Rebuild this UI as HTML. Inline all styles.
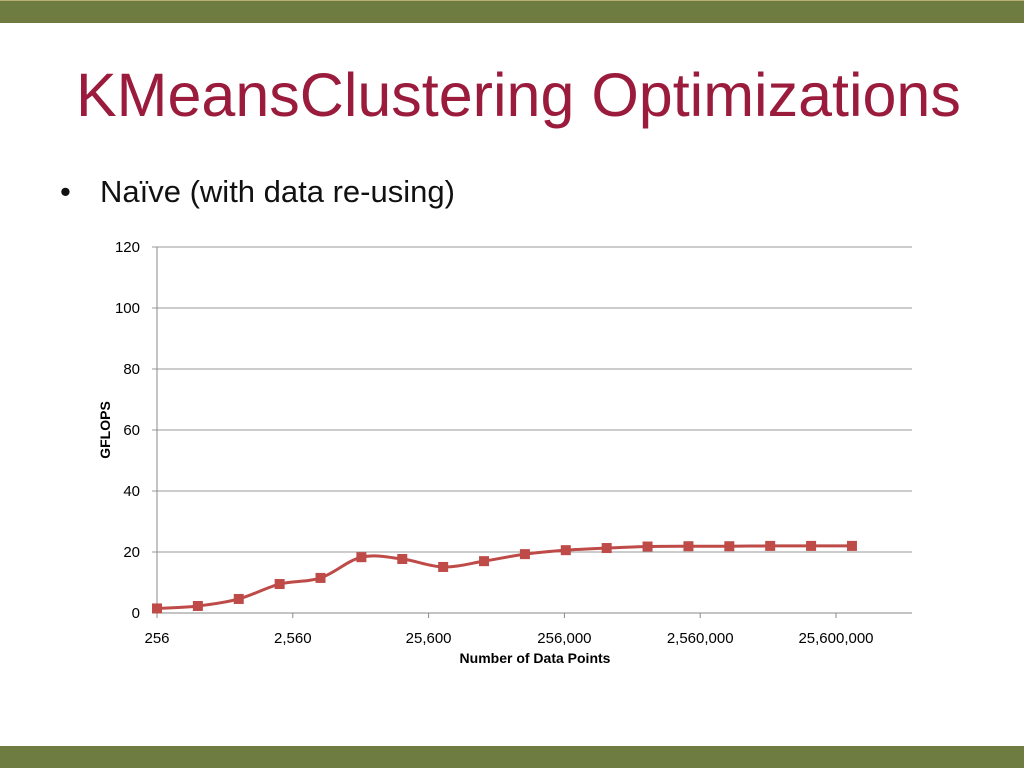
<!DOCTYPE html>
<html><head><meta charset="utf-8"><style>
body{margin:0;width:1024px;height:768px;background:#fff;overflow:hidden;position:relative;font-family:"Liberation Sans",sans-serif}
#top{position:absolute;left:0;top:0;width:1024px;height:22px;background:#6e7b41;border-top:1px solid #b8b070}
#bot{position:absolute;left:0;top:746px;width:1024px;height:22px;background:#6e7b41}
#title{position:absolute;left:76px;top:60px;font-size:61px;color:#9b1b3c;white-space:nowrap}
#bullet{position:absolute;left:60px;top:174px;font-size:31px;color:#111;white-space:nowrap}
#bullet span{position:absolute;left:40px}
svg{position:absolute;left:0;top:0}
</style></head><body>
<div id="top"></div>
<div id="bot"></div>
<div id="title">KMeansClustering Optimizations</div>
<div id="bullet">•<span>Naïve (with data re-using)</span></div>
<svg id="chart" width="1024" height="768" font-family="Liberation Sans, sans-serif"></svg>
<script>
const xValues=[256,512,1024,2048,4096,8192,16384,32768,65536,131072,262144,524288,1048576,2097152,4194304,8388608,16777216,33554432];
const gflops=[1.5,2.3,4.6,9.5,11.5,18.3,17.7,15.1,17,19.3,20.6,21.3,21.8,21.9,21.9,22,22,22];
const yTicks=[0,20,40,60,80,100,120];
const xTicks=[256,2560,25600,256000,2560000,25600000];
const xTickLabels=["256","2,560","25,600","256,000","2,560,000","25,600,000"];
const NS="http://www.w3.org/2000/svg";
const svg=document.getElementById('chart');
const L=157,R=912,T=247,B=613;
const xs=v=>L+Math.log10(v/256)*135.8;
const ys=v=>B-(v/120)*(B-T);
function mk(t,a,p){const e=document.createElementNS(NS,t);for(const k in a)e.setAttribute(k,a[k]);(p||svg).appendChild(e);return e;}
yTicks.forEach(v=>{
 const g=mk('line',{x1:152,x2:R,y1:ys(v),y2:ys(v),stroke:v===0?'#888':'#999','stroke-width':1});
 
 
 const t=mk('text',{x:140,y:ys(v)+5,'text-anchor':'end','font-size':15,fill:'#000'});t.textContent=v;
 
 
});
const ax=mk('line',{x1:L,x2:L,y1:T,y2:B+5,stroke:'#888'});


xTicks.forEach((v,i)=>{
 const tk=mk('line',{x1:xs(v),x2:xs(v),y1:B,y2:B+5,stroke:'#888'});
 
 
 const t=mk('text',{x:xs(v),y:B+30,'text-anchor':'middle','font-size':15,fill:'#000'});t.textContent=xTickLabels[i];
 
 
});
const yt=mk('text',{x:0,y:0,transform:'translate(110,430) rotate(-90)','text-anchor':'middle','font-size':14,'font-weight':'bold'});yt.textContent='GFLOPS';


const xt=mk('text',{x:535,y:663,'text-anchor':'middle','font-size':14,'font-weight':'bold'});xt.textContent='Number of Data Points';


const P=xValues.map((v,i)=>[xs(v),ys(gflops[i])]);
let d='M'+P[0][0]+','+P[0][1];
for(let i=0;i<P.length-1;i++){const p0=P[i-1]||P[i],p1=P[i],p2=P[i+1],p3=P[i+2]||P[i+1];
 d+=` C${p1[0]+(p2[0]-p0[0])/6},${p1[1]+(p2[1]-p0[1])/6} ${p2[0]-(p3[0]-p1[0])/6},${p2[1]-(p3[1]-p1[1])/6} ${p2[0]},${p2[1]}`;}
const ln=mk('path',{d:d,fill:'none',stroke:'#be4b48','stroke-width':3});


P.forEach(p=>{const m=mk('rect',{x:p[0]-5,y:p[1]-5,width:10,height:10,fill:'#be4b48'});
 
 });
</script>
</body></html>
